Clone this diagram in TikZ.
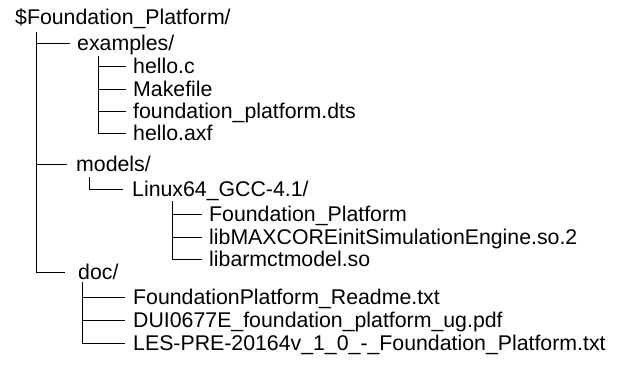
\documentclass[tikz,border=0pt]{standalone}
\usepackage{fontspec}
\setmainfont{Liberation Sans}
\usetikzlibrary{positioning}

\begin{document}
\begin{tikzpicture}[x=1pt, y=-1pt]

\tikzstyle{entry}=[anchor=west, inner sep=0pt, text height=16pt, text depth=2pt,
  font=\fontsize{21.3}{24}\selectfont]
\tikzstyle{branch}=[draw, line width=1pt, shorten >=7pt]

\useasboundingbox (0,0) rectangle (623,364);

% directory entries
\node[entry] (root) at (15,17) {\$Foundation\_Platform/};
\node[entry] (ex) at (77,43) {examples/};
\node[entry] (helloc) at (133,66) {hello.c};
\node[entry] (make) at (133,89) {Makefile};
\node[entry] (dts) at (133,111) {foundation\_platform.dts};
\node[entry] (axf) at (133,133) {hello.axf};
\node[entry] (models) at (76,164) {models/};
\node[entry] (linux) at (132,189) {Linux64\_GCC-4.1/};
\node[entry] (fp) at (209,214) {Foundation\_Platform};
\node[entry] (libmax) at (209,237) {libMAXCOREinitSimulationEngine.so.2};
\node[entry] (libarm) at (209,259) {libarmctmodel.so};
\node[entry] (doc) at (78,272) {doc/};
\node[entry] (readme) at (133,297) {FoundationPlatform\_Readme.txt};
\node[entry] (ug) at (133,320) {DUI0677E\_foundation\_platform\_ug.pdf};
\node[entry] (les) at (133,343) {LES-PRE-20164v\_1\_0\_-\_Foundation\_Platform.txt};

% trunk tops
\coordinate (rootT) at (36,32);
\coordinate (exT) at (98,56);
\coordinate (modT) at (89,177);
\coordinate (linT) at (172,201);
\coordinate (docT) at (82,282);

\draw[branch] (rootT) |- (ex);
\draw[branch, shorten >=9pt] (rootT) |- (models);
\draw[branch, shorten >=13pt] (rootT) |- (doc);

\draw[branch] (exT) |- (helloc);
\draw[branch] (exT) |- (make);
\draw[branch] (exT) |- (dts);
\draw[branch] (exT) |- (axf);

\draw[branch, shorten >=9pt] (modT) |- (linux);

\draw[branch] (linT) |- (fp);
\draw[branch] (linT) |- (libmax);
\draw[branch] (linT) |- (libarm);

\draw[branch, shorten >=8pt] (docT) |- (readme);
\draw[branch, shorten >=8pt] (docT) |- (ug);
\draw[branch, shorten >=8pt] (docT) |- (les);

\end{tikzpicture}
\end{document}
